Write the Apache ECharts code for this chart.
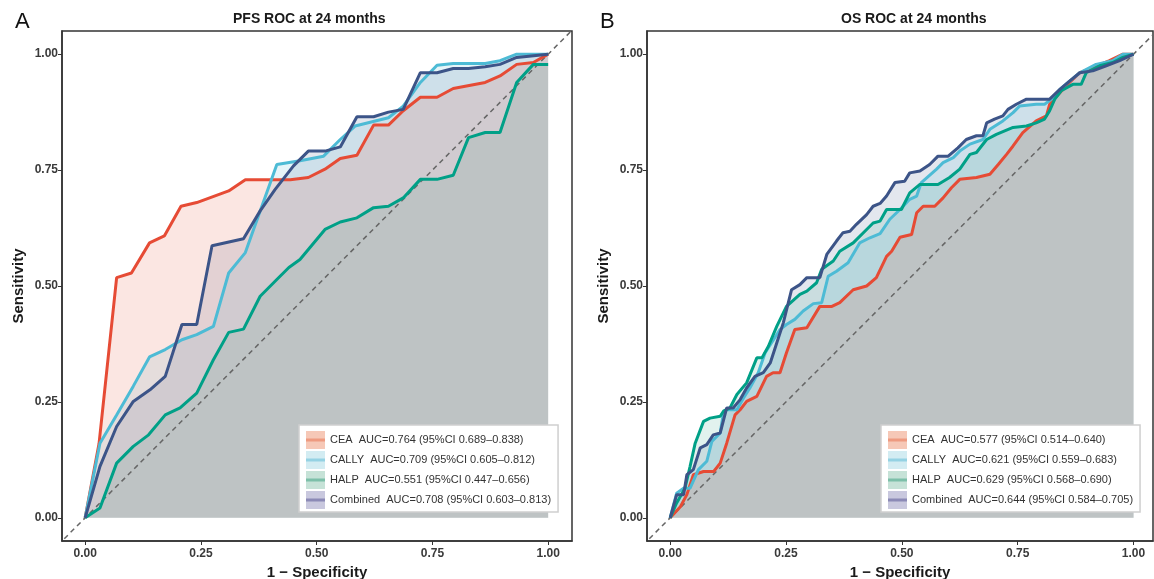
<!DOCTYPE html>
<html>
<head>
<meta charset="utf-8">
<script src="https://cdn.jsdelivr.net/npm/echarts@6/dist/echarts.min.js"></script>
<style>
  html, body { margin: 0; padding: 0; background: #fff; }
  #roc { width: 1154px; height: 579px; }
</style>
</head>
<body>
<div id="roc"></div>
<script>
// marker names and colours
const markers = ['CEA', 'CALLY', 'HALP', 'Combined'];
const lineColors = ['#E64B35', '#4DBBD5', '#00A087', '#3C5488'];
const fillColors = ['rgba(230,75,53,0.14)', 'rgba(77,187,213,0.14)', 'rgba(50,160,135,0.14)', 'rgba(60,84,136,0.14)'];
const keyColors = ['#F6C8B7', '#D3ECF2', '#C6E2D7', '#C9C8DE'];
const keyStripe = ['#EE9A80', '#95D2E3', '#7DBFA9', '#8C8AB6'];

// legend texts
const pfsAuc = ['AUC=0.764 (95%CI 0.689–0.838)', 'AUC=0.709 (95%CI 0.605–0.812)', 'AUC=0.551 (95%CI 0.447–0.656)', 'AUC=0.708 (95%CI 0.603–0.813)'];
const osAuc = ['AUC=0.577 (95%CI 0.514–0.640)', 'AUC=0.621 (95%CI 0.559–0.683)', 'AUC=0.629 (95%CI 0.568–0.690)', 'AUC=0.644 (95%CI 0.584–0.705)'];

const tickValues = [0, 0.25, 0.5, 0.75, 1];
const chanceLine = [[-0.1, -0.1], [1.1, 1.1]];

// PFS ROC points [1 - specificity, sensitivity]
const pfsCea = [[0,0],[0.03,0.16],[0.068,0.518],[0.10,0.528],[0.139,0.593],[0.171,0.608],[0.207,0.672],[0.241,0.68],[0.31,0.705],[0.346,0.729],[0.443,0.729],[0.482,0.734],[0.518,0.752],[0.551,0.775],[0.587,0.782],[0.623,0.847],[0.655,0.847],[0.687,0.878],[0.724,0.907],[0.76,0.907],[0.795,0.926],[0.864,0.939],[0.896,0.953],[0.932,0.978],[0.968,0.982],[1,1]];
const pfsCally = [[0,0],[0.032,0.161],[0.068,0.222],[0.104,0.284],[0.139,0.347],[0.173,0.363],[0.209,0.384],[0.241,0.395],[0.277,0.413],[0.31,0.528],[0.346,0.572],[0.378,0.662],[0.414,0.762],[0.464,0.77],[0.515,0.78],[0.551,0.816],[0.583,0.845],[0.655,0.863],[0.687,0.888],[0.724,0.939],[0.76,0.976],[0.795,0.98],[0.864,0.98],[0.896,0.986],[0.932,1],[1,1]];
const pfsHalp = [[0,0],[0.032,0.021],[0.068,0.118],[0.104,0.154],[0.137,0.179],[0.173,0.222],[0.205,0.237],[0.241,0.269],[0.277,0.341],[0.31,0.40],[0.342,0.407],[0.378,0.478],[0.414,0.514],[0.44,0.54],[0.464,0.557],[0.518,0.622],[0.551,0.638],[0.587,0.647],[0.623,0.669],[0.655,0.672],[0.687,0.69],[0.724,0.73],[0.76,0.73],[0.795,0.739],[0.828,0.82],[0.864,0.831],[0.896,0.831],[0.932,0.939],[0.968,0.978],[1,0.978]];
const pfsCombined = [[0,0],[0.032,0.111],[0.068,0.197],[0.104,0.251],[0.14,0.276],[0.173,0.305],[0.209,0.417],[0.241,0.417],[0.274,0.587],[0.342,0.602],[0.378,0.662],[0.41,0.708],[0.45,0.759],[0.482,0.791],[0.518,0.791],[0.551,0.80],[0.587,0.865],[0.623,0.865],[0.655,0.875],[0.687,0.881],[0.724,0.96],[0.76,0.96],[0.795,0.969],[0.828,0.969],[0.864,0.973],[0.896,0.978],[0.932,0.993],[1,1]];

// OS ROC points
const osCea = [[0,0],[0.022,0.024],[0.036,0.05],[0.05,0.093],[0.072,0.10],[0.094,0.10],[0.108,0.118],[0.122,0.161],[0.14,0.222],[0.151,0.233],[0.165,0.251],[0.187,0.262],[0.208,0.305],[0.222,0.313],[0.237,0.313],[0.251,0.356],[0.269,0.406],[0.295,0.41],[0.323,0.456],[0.349,0.456],[0.366,0.464],[0.395,0.492],[0.424,0.50],[0.445,0.518],[0.467,0.564],[0.478,0.575],[0.496,0.605],[0.521,0.611],[0.532,0.658],[0.546,0.672],[0.571,0.672],[0.589,0.69],[0.607,0.712],[0.625,0.73],[0.661,0.734],[0.69,0.741],[0.708,0.762],[0.726,0.784],[0.74,0.802],[0.761,0.831],[0.79,0.856],[0.812,0.867],[0.819,0.892],[0.841,0.917],[0.862,0.939],[0.884,0.96],[0.912,0.971],[0.948,0.986],[0.977,1],[1,1]];
const osCally = [[0,0],[0.014,0.053],[0.029,0.064],[0.043,0.064],[0.061,0.104],[0.079,0.122],[0.09,0.165],[0.108,0.183],[0.115,0.226],[0.122,0.233],[0.144,0.233],[0.158,0.258],[0.172,0.28],[0.19,0.313],[0.205,0.356],[0.223,0.384],[0.237,0.406],[0.251,0.417],[0.269,0.428],[0.287,0.446],[0.309,0.462],[0.327,0.464],[0.341,0.521],[0.359,0.532],[0.384,0.55],[0.409,0.593],[0.431,0.604],[0.453,0.613],[0.474,0.644],[0.496,0.665],[0.517,0.687],[0.532,0.694],[0.542,0.723],[0.575,0.752],[0.589,0.766],[0.611,0.777],[0.625,0.791],[0.647,0.806],[0.675,0.816],[0.69,0.838],[0.718,0.856],[0.74,0.874],[0.754,0.888],[0.79,0.892],[0.808,0.892],[0.823,0.903],[0.841,0.924],[0.862,0.942],[0.884,0.96],[0.919,0.978],[0.955,0.986],[0.977,1],[1,1]];
const osHalp = [[0,0],[0.014,0.032],[0.032,0.064],[0.043,0.111],[0.054,0.161],[0.072,0.208],[0.086,0.215],[0.108,0.219],[0.115,0.23],[0.129,0.237],[0.144,0.266],[0.165,0.291],[0.187,0.345],[0.198,0.345],[0.212,0.37],[0.23,0.413],[0.251,0.456],[0.28,0.482],[0.295,0.489],[0.316,0.507],[0.327,0.536],[0.352,0.554],[0.366,0.575],[0.395,0.593],[0.424,0.622],[0.438,0.636],[0.453,0.64],[0.467,0.665],[0.499,0.665],[0.517,0.701],[0.539,0.719],[0.578,0.719],[0.603,0.734],[0.625,0.752],[0.647,0.784],[0.661,0.788],[0.683,0.816],[0.704,0.827],[0.74,0.842],[0.769,0.845],[0.79,0.852],[0.808,0.86],[0.819,0.878],[0.83,0.903],[0.844,0.921],[0.869,0.935],[0.887,0.935],[0.898,0.96],[0.927,0.975],[0.955,0.982],[0.977,0.993],[1,1]];
const osCombined = [[0,0],[0.014,0.05],[0.029,0.05],[0.036,0.093],[0.05,0.104],[0.065,0.151],[0.079,0.158],[0.093,0.179],[0.108,0.183],[0.122,0.237],[0.136,0.237],[0.151,0.255],[0.165,0.28],[0.183,0.305],[0.201,0.313],[0.216,0.334],[0.23,0.377],[0.244,0.42],[0.262,0.492],[0.28,0.503],[0.295,0.518],[0.323,0.518],[0.338,0.568],[0.359,0.597],[0.373,0.615],[0.388,0.618],[0.402,0.633],[0.424,0.654],[0.438,0.672],[0.453,0.678],[0.467,0.694],[0.485,0.723],[0.506,0.726],[0.517,0.744],[0.539,0.748],[0.56,0.762],[0.578,0.78],[0.6,0.78],[0.621,0.798],[0.639,0.816],[0.661,0.824],[0.675,0.824],[0.683,0.852],[0.70,0.86],[0.718,0.867],[0.729,0.881],[0.747,0.892],[0.769,0.903],[0.819,0.903],[0.841,0.924],[0.862,0.942],[0.884,0.96],[0.912,0.964],[0.941,0.975],[0.97,0.986],[1,1]];

const FONT = '"Liberation Sans", Arial, Helvetica, sans-serif';
const chart = echarts.init(document.getElementById('roc'));

function makeAxis(gridIndex, name, gap, max, labelMargin) {
  return {
    type: 'value', gridIndex: gridIndex, min: -0.05, max: max,
    name: name, nameLocation: 'middle', nameGap: gap,
    nameTextStyle: { fontFamily: FONT, fontSize: 15, fontWeight: 'bold', color: '#1a1a1a' },
    axisLine: { show: true, onZero: false, lineStyle: { color: '#333', width: 1.5 } },
    axisTick: { show: true, length: 4, customValues: tickValues, lineStyle: { color: '#333', width: 1 } },
    axisLabel: { customValues: tickValues, margin: labelMargin, fontFamily: FONT, fontSize: 12, fontWeight: 'bold', color: '#3a3a3a',
      formatter: v => v.toFixed(2) },
    splitLine: { show: false }
  };
}

const series = [];
function addPanel(idx, curves, aucs) {
  // fills: combined underneath, CEA on top
  for (let i = curves.length - 1; i >= 0; i--) {
    series.push({
      name: markers[i] + '  ' + aucs[i], type: 'line', xAxisIndex: idx, yAxisIndex: idx,
      data: curves[i], showSymbol: false, silent: true, z: 1,
      lineStyle: { width: 0, opacity: 0 }, itemStyle: { color: keyColors[i] },
      areaStyle: { color: fillColors[i], opacity: 1 }
    });
  }
  series.push({
    type: 'line', xAxisIndex: idx, yAxisIndex: idx, data: chanceLine, showSymbol: false, silent: true, z: 2,
    lineStyle: { color: '#666', width: 1.5, type: [5, 4] }
  });
  curves.forEach((pts, i) => {
    series.push({
      name: markers[i] + '  ' + aucs[i], type: 'line', xAxisIndex: idx, yAxisIndex: idx,
      data: pts, showSymbol: false, silent: true, z: 3,
      lineStyle: { color: lineColors[i], width: 3 }, itemStyle: { color: lineColors[i] }
    });
  });
}
addPanel(0, [pfsCea, pfsCally, pfsHalp, pfsCombined], pfsAuc);
addPanel(1, [osCea, osCally, osHalp, osCombined], osAuc);

// key boxes, then a second pass that lays a thin stripe over each box
const stripeIcon = 'path://M0,0L0.01,0M0,18L0.01,18M0,7.6L19,7.6L19,10.4L0,10.4Z';
function makeLegend(left, aucs, stripe) {
  return {
    orient: 'vertical', left: left, top: 425, icon: stripe ? stripeIcon : 'rect',
    itemWidth: 19, itemHeight: 18, itemGap: 2, padding: [6, 7, 3, 7],
    backgroundColor: stripe ? 'transparent' : '#fff',
    borderColor: stripe ? 'transparent' : '#cfcfcf', borderWidth: stripe ? 0 : 1.5,
    selectedMode: false, z: stripe ? 6 : 5,
    textStyle: { fontFamily: FONT, fontSize: 11, color: stripe ? 'rgba(0,0,0,0)' : '#333' },
    data: markers.map((m, i) => ({ name: m + '  ' + aucs[i], itemStyle: { color: stripe ? keyStripe[i] : keyColors[i] } }))
  };
}

chart.setOption({
  animation: false,
  backgroundColor: '#fff',
  title: [
    { text: 'A', left: 10, top: 6, textStyle: { fontFamily: FONT, fontSize: 22, fontWeight: 'normal', color: '#111' } },
    { text: 'PFS ROC at 24 months', left: 228, top: 7, textStyle: { fontFamily: FONT, fontSize: 14, fontWeight: 'bold', color: '#1a1a1a' } },
    { text: 'B', left: 595, top: 6, textStyle: { fontFamily: FONT, fontSize: 22, fontWeight: 'normal', color: '#111' } },
    { text: 'OS ROC at 24 months', left: 836, top: 7, textStyle: { fontFamily: FONT, fontSize: 14, fontWeight: 'bold', color: '#1a1a1a' } }
  ],
  grid: [
    { left: 62, top: 31, width: 510, height: 510, outerBoundsMode: 'none', show: true, borderColor: '#333', borderWidth: 1.5, backgroundColor: '#fff' },
    { left: 647, top: 31, width: 506, height: 510, outerBoundsMode: 'none', show: true, borderColor: '#333', borderWidth: 1.5, backgroundColor: '#fff' }
  ],
  xAxis: [
    makeAxis(0, '1 − Specificity', 19, 1.0515, 7),
    makeAxis(1, '1 − Specificity', 19, 1.042, 7)
  ],
  yAxis: [
    makeAxis(0, 'Sensitivity', 36, 1.05, 4),
    makeAxis(1, 'Sensitivity', 36, 1.05, 4)
  ],
  legend: [
    makeLegend(299, pfsAuc, false), makeLegend(881, osAuc, false),
    makeLegend(299, pfsAuc, true), makeLegend(881, osAuc, true)
  ],
  series: series
});

window.addEventListener('resize', function () {
  chart.resize();
});
</script>
</body>
</html>
